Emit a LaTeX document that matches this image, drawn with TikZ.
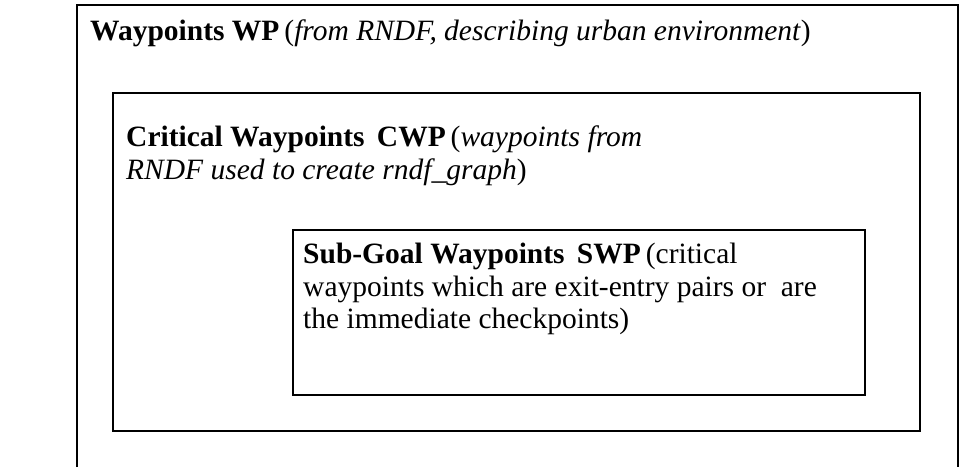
\documentclass[tikz,border=0pt]{standalone}
\usepackage{fontspec}
\setmainfont{Liberation Serif}
\tikzset{
  frame/.style={draw=black, line width=1.8pt},
  label/.style={anchor=north west, inner sep=0pt, align=left, font=\fontsize{29.5}{32.5}\selectfont}
}
\begin{document}
\begin{tikzpicture}[x=1pt, y=-1pt]
  \useasboundingbox (0,0) rectangle (979,467);
  % outer region: open at the bottom
  \draw[frame] (77,467) -- (77,5) -- (958,5) -- (958,467);
  \node[label] (wp) at (90,20) {\textbf{Waypoints WP}\,(\textit{from RNDF, describing urban environment})};
  % critical waypoints
  \draw[frame] (113,93) rectangle (920,431);
  \node[label] (cwp) at (126,126) {\textbf{Critical Waypoints\, CWP}\,(\textit{waypoints from}\\\textit{RNDF used to create rndf\_graph})};
  % sub-goal waypoints
  \draw[frame] (293,230) rectangle (865,395);
  \node[label] (swp) at (303,243) {\textbf{Sub-Goal Waypoints\, SWP}\,(critical\\waypoints which are exit-entry pairs or\ \ are\\the immediate checkpoints)};
\end{tikzpicture}
\end{document}
